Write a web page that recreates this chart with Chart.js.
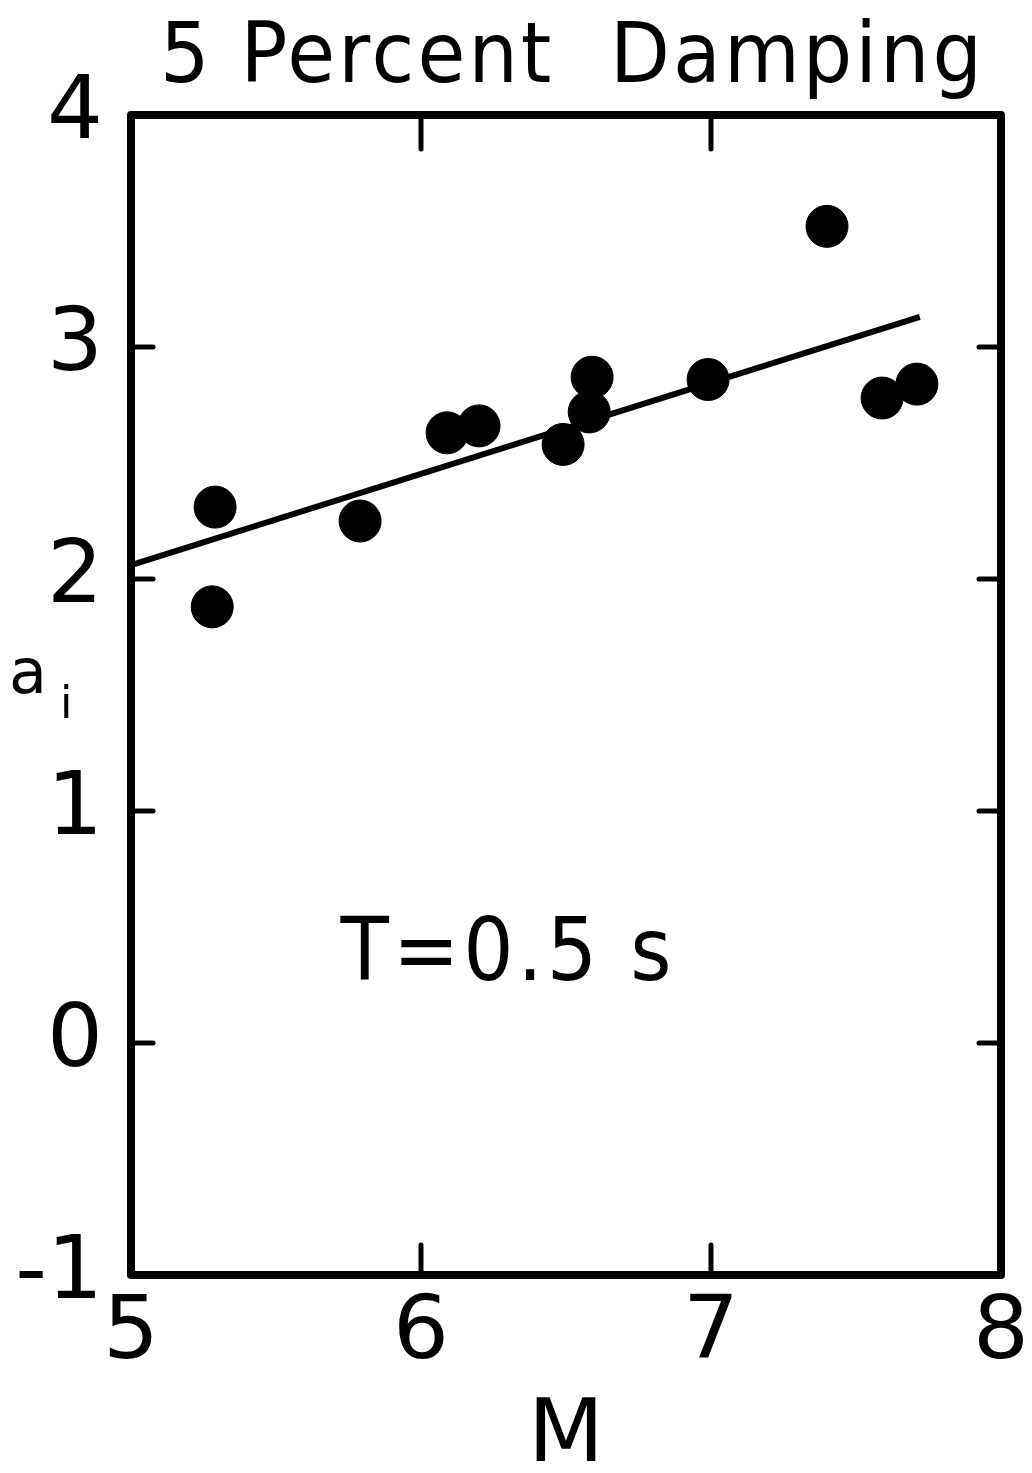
<!DOCTYPE html>
<html>
<head>
<meta charset="utf-8">
<script src="https://cdn.jsdelivr.net/npm/chart.js@4.4.1/dist/chart.umd.min.js"></script>
<style>
  html, body { margin: 0; padding: 0; background: #fff; }
  canvas { display: block; }
</style>
</head>
<body>
<canvas id="c" width="1032" height="1473"></canvas>
<script>
// ---- data ----
const magnitude = [5.29, 5.28, 5.79, 6.09, 6.20, 6.49, 6.59, 6.58, 6.99, 7.40, 7.59, 7.71];
const coefA     = [2.31, 1.88, 2.25, 2.63, 2.66, 2.58, 2.87, 2.72, 2.86, 3.52, 2.78, 2.84];
const fitM      = [5.0, 7.72];
const fitA      = [2.06, 3.13];
const xTickVals = [5, 6, 7, 8];
const yTickVals = [-1, 0, 1, 2, 3, 4];
const titleText = '5 Percent  Damping';
const xLabel = 'M';
const noteText = 'T=0.5 s';

const FONT = '"DejaVu Sans", sans-serif';
const FONT_C = '"DejaVu Sans Condensed", "DejaVu Sans", sans-serif';

const framePlugin = {
  id: 'frame',
  afterDatasetsDraw(chart) {
    const { ctx, chartArea: a, scales } = chart;
    const xs = scales.x, ys = scales.y;
    ctx.save();
    ctx.strokeStyle = '#000';
    ctx.lineCap = 'round';
    // inward ticks
    ctx.lineWidth = 5;
    yTickVals.forEach(v => {
      const py = ys.getPixelForValue(v);
      ctx.beginPath(); ctx.moveTo(a.left, py); ctx.lineTo(a.left + 22, py); ctx.stroke();
      ctx.beginPath(); ctx.moveTo(a.right, py); ctx.lineTo(a.right - 22, py); ctx.stroke();
    });
    xTickVals.forEach(v => {
      const px = xs.getPixelForValue(v);
      ctx.beginPath(); ctx.moveTo(px, a.top); ctx.lineTo(px, a.top + 34); ctx.stroke();
      ctx.beginPath(); ctx.moveTo(px, a.bottom); ctx.lineTo(px, a.bottom - 30); ctx.stroke();
    });
    // frame
    ctx.lineWidth = 8;
    ctx.lineJoin = 'round';
    ctx.strokeRect(a.left, a.top, a.right - a.left, a.bottom - a.top);

    ctx.fillStyle = '#000';
    // title
    ctx.font = '84px ' + FONT_C;
    ctx.textAlign = 'left';
    ctx.textBaseline = 'alphabetic';
    try { ctx.letterSpacing = '3px'; } catch (e) {}
    const tw = ctx.measureText(titleText).width;
    const target = 825;
    ctx.save();
    ctx.translate(160, 82);
    ctx.scale(target / tw, 1);
    ctx.fillText(titleText, 0, 0);
    ctx.restore();
    try { ctx.letterSpacing = '4px'; } catch (e) {}
    // annotation text
    ctx.font = '88px ' + FONT_C;
    ctx.textAlign = 'center';
    ctx.textBaseline = 'middle';
    ctx.fillText(noteText, xs.getPixelForValue(6.30), ys.getPixelForValue(0.37));
    try { ctx.letterSpacing = '0px'; } catch (e) {}
    // y axis label a_i
    ctx.textAlign = 'left';
    ctx.textBaseline = 'alphabetic';
    ctx.font = '62px ' + FONT;
    const ly = ys.getPixelForValue(1.51);
    ctx.fillText('a', 9, ly);
    ctx.font = '45px ' + FONT;
    ctx.fillText('i', 60, ly + 25);
    ctx.restore();
  }
};

new Chart(document.getElementById('c'), {
  type: 'scatter',
  data: {
    datasets: [
      {
        type: 'line',
        data: fitM.map((m, i) => ({ x: m, y: fitA[i] })),
        borderColor: '#000',
        borderWidth: 6,
        pointRadius: 0,
        fill: false
      },
      {
        data: magnitude.map((m, i) => ({ x: m, y: coefA[i] })),
        backgroundColor: '#000',
        borderColor: '#000',
        pointRadius: 21,
        pointHoverRadius: 21
      }
    ]
  },
  options: {
    responsive: false,
    animation: false,
    events: [],
    layout: { padding: { left: 0, right: 31, top: 115, bottom: 0 } },
    plugins: {
      legend: { display: false },
      tooltip: { enabled: false },
      title: { display: false }
    },
    scales: {
      x: {
        type: 'linear',
        min: 5, max: 8,
        afterFit: s => { s.height = 198; s.paddingLeft = 0; s.paddingRight = 0; },
        afterBuildTicks: s => { s.ticks = xTickVals.map(v => ({ value: v })); },
        grid: { display: false, drawTicks: false },
        border: { display: false },
        ticks: { color: '#000', font: { family: FONT, size: 88 }, padding: 7, maxRotation: 0 },
        title: { display: true, text: xLabel, color: '#000', font: { family: FONT, size: 88, lineHeight: 0.8 }, padding: { top: 0, bottom: 0 } }
      },
      y: {
        type: 'linear',
        min: -1, max: 4,
        afterFit: s => { s.width = 131; s.paddingTop = 0; s.paddingBottom = 0; },
        afterBuildTicks: s => { s.ticks = yTickVals.map(v => ({ value: v })); },
        grid: { display: false, drawTicks: false },
        border: { display: false },
        ticks: { color: '#000', font: { family: FONT, size: 88 }, padding: 28 }
      }
    }
  },
  plugins: [framePlugin]
});
</script>
</body>
</html>
